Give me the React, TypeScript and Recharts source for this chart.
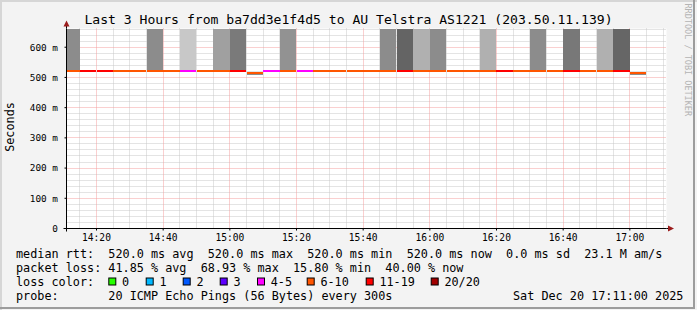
import React from 'react';
import { ComposedChart, Bar, XAxis, YAxis, CartesianGrid, Cell } from 'recharts';

// ---------- data ----------
const startTime = '14:11';
const endTime = '17:11';
const intervalStarts = [
  '14:10', '14:15', '14:20', '14:25', '14:30', '14:35', '14:40', '14:45', '14:50', '14:55',
  '15:00', '15:05', '15:10', '15:15', '15:20', '15:25', '15:30', '15:35', '15:40', '15:45',
  '15:50', '15:55', '16:00', '16:05', '16:10', '16:15', '16:20', '16:25', '16:30', '16:35',
  '16:40', '16:45', '16:50', '16:55', '17:00', '17:05', '17:10',
];
const lossPct: (number | null)[] = [
  40, 60, 60, 40, 40, 45, 40, 20, 40, 45,
  68.93, 40, 15.8, 40, 25, 40, 40, 40, 40, 45,
  60, 45, 40, 40, 40, 45, 60, 40, 45, 40,
  60, 40, 40, 65, 40, null, null,
];
const medianRtt: (number | null)[] = [
  520, 520, 520, 520, 520, 520, 520, 520, 520, 520,
  520, 516, 520, 520, 520, 520, 520, 520, 520, 520,
  520, 520, 520, 520, 520, 520, 520, 520, 520, 520,
  520, 520, 520, 520, 516, null, null,
];
const smokeLow: (number | null)[] = [
  520, null, null, null, null, 520, null, 520, null, 520,
  520, 509, null, 520, null, null, null, null, null, 520,
  520, 520, 520, null, null, 520, null, null, 520, null,
  520, null, 520, 520, 509, null, null,
];
const smokeHigh: (number | null)[] = [
  662, null, null, null, null, 662, null, 662, null, 662,
  662, 516, null, 662, null, null, null, null, null, 662,
  662, 662, 662, null, null, 662, null, null, 662, null,
  662, null, 662, 662, 516, null, null,
];
const smokeShade: (string | null)[] = [
  '#8c8c8c', null, null, null, null, '#8c8c8c', null, '#c8c8c8', null, '#a0a0a0',
  '#7a7a7a', '#8c8c8c', null, '#929292', null, null, null, null, null, '#8c8c8c',
  '#646464', '#b0b0b0', '#8c8c8c', null, null, '#b0b0b0', null, null, '#8c8c8c', null,
  '#787878', null, '#b0b0b0', '#666666', '#8c8c8c', null, null,
];
const xTickLabels = ['14:20', '14:40', '15:00', '15:20', '15:40', '16:00', '16:20', '16:40', '17:00'];
const yTickValues = [0, 100, 200, 300, 400, 500, 600];
const lossLegend = [
  { label: '0', maxLost: 0, color: '#26ff00' },
  { label: '1', maxLost: 1, color: '#00b8ff' },
  { label: '2', maxLost: 2, color: '#0059ff' },
  { label: '3', maxLost: 3, color: '#5e00ff' },
  { label: '4-5', maxLost: 5, color: '#ff00ff' },
  { label: '6-10', maxLost: 10, color: '#ff5500' },
  { label: '11-19', maxLost: 19, color: '#ff0000' },
  { label: '20/20', maxLost: 20, color: '#a10000' },
];
const PINGS = 20;
const titleText = 'Last 3 Hours from ba7dd3e1f4d5 to AU Telstra AS1221 (203.50.11.139)';
const rttStats = 'median rtt:  520.0 ms avg  520.0 ms max  520.0 ms min  520.0 ms now  0.0 ms sd  23.1 M am/s';
const lossStats = 'packet loss: 41.85 % avg  68.93 % max  15.80 % min  40.00 % now';
const probeText = 'probe:       20 ICMP Echo Pings (56 Bytes) every 300s';
const dateText = 'Sat Dec 20 17:11:00 2025';

// ---------- layout ----------
const W = 697;
const H = 310;
const PLOT_LEFT = 66.5;
const PLOT_TOP = 28.5;
const PLOT_W = 600;
const PLOT_H = 200;
const Y_MAX = 662;
const STEP = 5;
const MONO = '"DejaVu Sans Mono", monospace';

const nb = (s: string) => s.replace(/ /g, '\u00A0');
const toMin = (s: string) => {
  const [h, m] = s.split(':').map(Number);
  return h * 60 + m;
};
const fmtTime = (v: number) => `${Math.floor(v / 60)}:${String(Math.round(v) % 60).padStart(2, '0')}`;
const X0 = toMin(startTime);
const X1 = toMin(endTime);
const barPx = (PLOT_W / (X1 - X0)) * STEP;
const onePx = Y_MAX / PLOT_H;

const lossColorOf = (pct: number) => {
  const lost = (pct / 100) * PINGS;
  const b = lossLegend.find((l) => lost <= l.maxLost);
  return b ? b.color : lossLegend[lossLegend.length - 1].color;
};

const data = intervalStarts.map((s, i) => {
  const m = medianRtt[i];
  const loss = lossPct[i];
  return {
    t: toMin(s) + STEP / 2,
    smoke: smokeHigh[i] == null ? null : [smokeLow[i], smokeHigh[i]],
    median: m == null ? null : [m - onePx, m + onePx],
    shade: smokeShade[i],
    lossColor: loss == null ? 'none' : lossColorOf(loss),
  };
});

const xTicks = xTickLabels.map(toMin);
const allX: number[] = [];
for (let v = Math.ceil(X0 / STEP) * STEP; v < X1; v += STEP) allX.push(v);
const minorX = allX.filter((v) => !xTicks.includes(v));
const allY: number[] = [];
for (let v = 20; v <= Y_MAX; v += 20) allY.push(v);
const majorY = yTickValues.filter((v) => v > 0);
const minorY = allY.filter((v) => !majorY.includes(v));

// pixel-snapped grid coordinates, derived from the axis scales
const snap = (p: number) => Math.round(p - 0.5) + 0.5;
const hGen = (values: number[]) => (props: any) => {
  const sc = props?.yAxis?.scale;
  const off = props?.offset;
  return values.map((v) =>
    snap(typeof sc === 'function' ? sc(v) : (off?.top ?? PLOT_TOP) + (off?.height ?? PLOT_H) * (1 - v / Y_MAX)),
  );
};
const vGen = (values: number[]) => (props: any) => {
  const sc = props?.xAxis?.scale;
  const off = props?.offset;
  return values.map((v) =>
    snap(typeof sc === 'function' ? sc(v) : (off?.left ?? PLOT_LEFT) + (off?.width ?? PLOT_W) * ((v - X0) / (X1 - X0))),
  );
};

const legendBoxX = [108.3, 145.7, 182.7, 219.7, 257, 306.7, 365.7, 430.7];

export default function App() {
  const tickStyle = { fontFamily: MONO, fontSize: 9.6, fill: '#000' };
  return (
    <div style={{ position: 'absolute', left: 0, top: 0, width: W, height: H, background: '#f3f3f3', overflow: 'hidden' }}>
      <div style={{ position: 'absolute', left: 0, top: 0 }}>
        <ComposedChart
          width={W}
          height={H}
          data={data}
          margin={{ top: PLOT_TOP, right: W - PLOT_LEFT - PLOT_W, bottom: H - PLOT_TOP - PLOT_H - 20, left: PLOT_LEFT - 60 }}
        >
          <CartesianGrid
            xAxisId="smoke"
            fill="#ffffff"
            stroke="#c8c8c8"
            strokeDasharray="1 1"
            horizontalCoordinatesGenerator={hGen(minorY)}
            verticalCoordinatesGenerator={vGen(minorX)}
          />
          <CartesianGrid
            xAxisId="smoke"
            stroke="#f4a0a0"
            strokeDasharray="1 1"
            horizontalCoordinatesGenerator={hGen(majorY)}
            verticalCoordinatesGenerator={vGen(xTicks)}
          />
          <XAxis
            xAxisId="smoke"
            type="number"
            dataKey="t"
            domain={[X0, X1]}
            allowDataOverflow
            ticks={xTicks}
            interval={0}
            tickFormatter={fmtTime}
            height={20}
            tickSize={2}
            tickMargin={3.4}
            tick={tickStyle}
            axisLine={{ stroke: '#000' }}
            tickLine={{ stroke: '#000' }}
          />
          <XAxis xAxisId="line" type="number" dataKey="t" domain={[X0, X1]} allowDataOverflow hide height={0} />
          <YAxis
            type="number"
            domain={[0, Y_MAX]}
            allowDataOverflow
            ticks={yTickValues}
            interval={0}
            width={60}
            tickFormatter={(v: number) => (v === 0 ? '0' : `${v} m`)}
            tickSize={2}
            tickMargin={6.5}
            tick={{ ...tickStyle, fontSize: 9.4 }}
            axisLine={{ stroke: '#000' }}
            tickLine={{ stroke: '#000' }}
          />
          <Bar xAxisId="smoke" dataKey="smoke" barSize={barPx - 0.01} isAnimationActive={false} shapeRendering="crispEdges">
            {data.map((d, i) => (
              <Cell key={`s${i}`} fill={d.shade ?? 'none'} />
            ))}
          </Bar>
          <Bar xAxisId="line" dataKey="median" barSize={barPx - 0.01} isAnimationActive={false} shapeRendering="crispEdges">
            {data.map((d, i) => (
              <Cell key={`m${i}`} fill={d.lossColor} />
            ))}
          </Bar>
        </ComposedChart>
      </div>
      <svg width={W} height={H} style={{ position: 'absolute', left: 0, top: 0, pointerEvents: 'none' }}>
        {/* frame */}
        <rect x={0} y={0} width={W} height={2} fill="#d6d6d6" />
        <rect x={0} y={0} width={2} height={H} fill="#d6d6d6" />
        <rect x={693} y={0} width={2} height={309} fill="#9c9c9c" />
        <rect x={0} y={307} width={695} height={2} fill="#9c9c9c" />
        {/* axis extensions and arrows */}
        <line x1={PLOT_LEFT} y1={PLOT_TOP} x2={PLOT_LEFT} y2={24} stroke="#000" />
        <line x1={PLOT_LEFT} y1={PLOT_TOP + PLOT_H} x2={PLOT_LEFT} y2={PLOT_TOP + PLOT_H + 3} stroke="#000" />
        <line x1={PLOT_LEFT + PLOT_W} y1={PLOT_TOP + PLOT_H} x2={669} y2={PLOT_TOP + PLOT_H} stroke="#000" />
        <line x1={PLOT_LEFT - 3} y1={PLOT_TOP + PLOT_H} x2={PLOT_LEFT} y2={PLOT_TOP + PLOT_H} stroke="#000" />
        <polygon points="63.5,26.5 69.5,26.5 66.5,20.5" fill="#9b1c1c" />
        <polygon points="668,225.5 668,231.5 674,228.5" fill="#9b1c1c" />
        {/* title */}
        <text x={348.5} y={24} textAnchor="middle" fontFamily={MONO} fontSize={13.1} fill="#000">
          {nb(titleText)}
        </text>
        {/* y label */}
        <text transform="translate(13.5,127) rotate(-90)" textAnchor="middle" fontFamily={MONO} fontSize={11.8} fill="#000">
          Seconds
        </text>
        {/* watermark */}
        <text transform="translate(684.5,3.5) rotate(90)" fontFamily={MONO} fontSize={8.5} fill="#b4b4b4">
          {nb('RRDTOOL / TOBI OETIKER')}
        </text>
        {/* legend */}
        <g fontFamily={MONO} fontSize={11.8} fill="#000">
          <text x={16} y={258.3}>{nb(rttStats)}</text>
          <text x={16} y={272.2}>{nb(lossStats)}</text>
          <text x={16} y={286.1}>{nb('loss color:')}</text>
          {lossLegend.map((l, i) => (
            <g key={l.label}>
              <rect x={legendBoxX[i] + 0.5} y={278} width={7} height={7} fill={l.color} stroke="#000" strokeWidth={1} />
              <text x={legendBoxX[i] + 13.7} y={286.1}>{l.label}</text>
            </g>
          ))}
          <text x={16} y={300}>{nb(probeText)}</text>
          <text x={513} y={300}>{nb(dateText)}</text>
        </g>
      </svg>
    </div>
  );
}
